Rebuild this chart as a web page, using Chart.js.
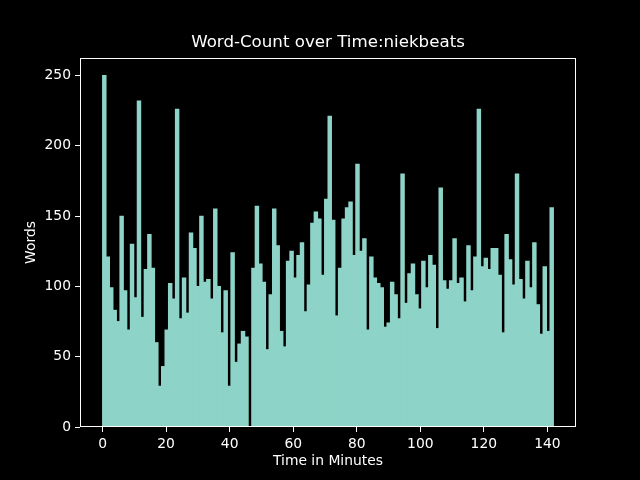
<!DOCTYPE html>
<html>
<head>
<meta charset="utf-8">
<title>Word-Count over Time:niekbeats</title>
<script src="https://cdn.jsdelivr.net/npm/chart.js@4.4.1/dist/chart.umd.min.js"></script>
<style>
  html, body { margin: 0; padding: 0; background: #000; }
  #wrap { width: 640px; height: 480px; }
</style>
</head>
<body>
<div id="wrap"><canvas id="wordChart" width="640" height="480"></canvas></div>
<script>
'use strict';

/* ── DATA ── */
// words per histogram bin, read left to right
const WORDS = [
  250, 121,  99,  83,  75, 150,  97,  69, 130,  92,
  232,  78, 112, 137, 113,  60,  29,  43,  69, 102,
   91, 226,  77, 106,  81, 138, 127, 100, 150, 103,
  105,  91, 155, 100,  67,  97,  29, 124,  46,  59,
   68,  64,   0, 113, 157, 116, 103,  55,  94, 155,
  129,  68,  57, 118, 125, 106, 122, 131,  82, 101,
  145, 153, 148, 108, 162, 221, 147,  79, 113, 148,
  156, 160, 122, 187, 125, 134,  69, 121, 106, 102,
   99,  71,  74, 103,  94,  77, 180,  88, 109, 116,
   94,  84, 118,  99, 122, 115,  70, 170, 104,  98,
  104, 134, 102, 106,  89, 129,  97, 121, 226, 114,
  120, 112, 127, 127, 108,  67, 137, 119, 101, 180,
  105,  91, 118,  99, 131,  87,  66, 114,  68, 156
];
const LAST_MINUTE = 141.9;
const BIN_WIDTH   = LAST_MINUTE / WORDS.length;
const X_TICKS = [0, 20, 40, 60, 80, 100, 120, 140];
const Y_TICKS = [0, 50, 100, 150, 200, 250];
const X_RANGE = [-7.1, 149.0];
const Y_RANGE = [0, 262.5];

/* ── STYLE ── */
const BAR_COLOR = '#8dd3c7';
const FG        = '#ffffff';
const FONT      = "'DejaVu Sans', sans-serif";
const TITLE_PX  = 16.67;   // 12pt at 100 dpi
const LABEL_PX  = 13.89;   // 10pt at 100 dpi

Chart.defaults.font.family = FONT;
Chart.defaults.color = FG;

// matplotlib-style box around the axes
const framePlugin = {
  id: 'frame',
  afterDatasetsDraw(chart) {
    const { ctx, chartArea: a } = chart;
    ctx.save();
    ctx.strokeStyle = FG;
    ctx.lineWidth = 1;
    ctx.strokeRect(a.left + 0.5, a.top + 0.5, a.right - a.left - 1, a.bottom - a.top - 1);
    ctx.restore();
  }
};

const points = WORDS.map((w, i) => ({ x: (i + 0.5) * BIN_WIDTH, y: w }));

new Chart(document.getElementById('wordChart'), {
  type: 'bar',
  data: {
    datasets: [{
      label: 'Words',
      data: points,
      backgroundColor: BAR_COLOR,
      borderWidth: 0,
      inflateAmount: 0.5,
      barPercentage: 1,
      categoryPercentage: 1
    }]
  },
  options: {
    responsive: false,
    animation: false,
    devicePixelRatio: 1,
    layout: { padding: { left: 0, right: 64, top: 0, bottom: 0 } },
    plugins: {
      legend: { display: false },
      tooltip: { enabled: false },
      title: {
        display: true,
        fullSize: false,
        text: 'Word-Count over Time:niekbeats',
        color: FG,
        font: { size: TITLE_PX, weight: 'normal' },
        padding: { top: 33, bottom: 5 }
      }
    },
    scales: {
      x: {
        type: 'linear',
        offset: false,
        min: X_RANGE[0],
        max: X_RANGE[1],
        afterBuildTicks: s => { s.ticks = X_TICKS.map(v => ({ value: v })); },
        afterFit: s => { s.height = 53; },
        border: { display: false },
        grid: { offset: false, drawOnChartArea: false, drawTicks: true, tickLength: 5, color: FG },
        ticks: { color: FG, padding: 4, maxRotation: 0, font: { size: LABEL_PX } },
        title: { display: true, text: 'Time in Minutes', color: FG, font: { size: LABEL_PX }, padding: { top: 0, bottom: 10 } }
      },
      y: {
        min: Y_RANGE[0],
        max: Y_RANGE[1],
        afterBuildTicks: s => { s.ticks = Y_TICKS.map(v => ({ value: v })); },
        afterFit: s => { s.width = 80; },
        border: { display: false },
        grid: { drawOnChartArea: false, drawTicks: true, tickLength: 5, color: FG },
        ticks: { color: FG, padding: 4, font: { size: LABEL_PX } },
        title: { display: true, text: 'Words', color: FG, font: { size: LABEL_PX }, padding: { top: 23, bottom: 0 } }
      }
    }
  },
  plugins: [framePlugin]
});
</script>
</body>
</html>
